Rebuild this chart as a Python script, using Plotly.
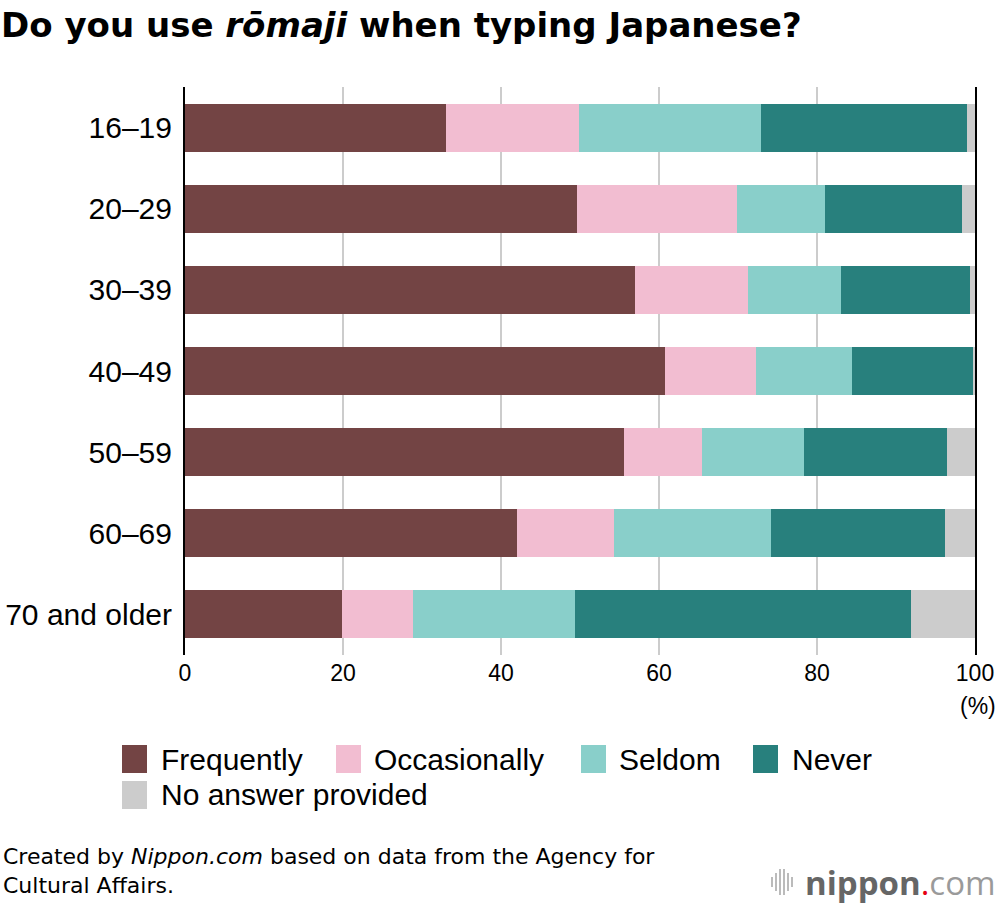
import plotly.graph_objects as go

categories = ["16–19", "20–29", "30–39", "40–49", "50–59", "60–69", "70 and older"]
frequently = [33.0, 49.6, 56.9, 60.8, 55.6, 42.0, 19.9]
occasionally = [16.9, 20.3, 14.4, 11.5, 9.8, 12.3, 9.0]
seldom = [23.0, 11.1, 11.8, 12.1, 13.0, 19.9, 20.5]
never = [26.1, 17.4, 16.3, 15.3, 18.1, 22.0, 42.5]
no_answer = [1.0, 1.6, 0.6, 0.3, 3.5, 3.8, 8.1]
series_names = ["Frequently", "Occasionally", "Seldom", "Never", "No answer provided"]
series_values = [frequently, occasionally, seldom, never, no_answer]
colors = ["#734444", "#f2bdd1", "#89cfca", "#28807d", "#cccccc"]
x_ticks = [0, 20, 40, 60, 80, 100]

W, H = 1000, 906
L, R, T, B = 185, 25, 87, 251
PW, PH = W - L - R, H - T - B
FONT = "Liberation Sans, Arial, Helvetica, sans-serif"
WIDE = "DejaVu Sans, Liberation Sans, sans-serif"


def px(x):
    return (x - L) / PW


def py(y):
    return (H - B - y) / PH


fig = go.Figure()
for name, vals, col in zip(series_names, series_values, colors):
    fig.add_trace(go.Bar(
        y=categories, x=vals, name=name, orientation="h",
        marker=dict(color=col, line=dict(width=0)),
        showlegend=False,
    ))

annotations = []
shapes = []

# manual legend
legend_items = [
    (0, 122, 159, 759),
    (1, 336, 372, 759),
    (2, 581, 617, 759),
    (3, 753, 790, 759),
    (4, 122, 159, 795),
]
for i, sx, tx, cy in legend_items:
    shapes.append(dict(type="rect", xref="paper", yref="paper",
                       x0=px(sx), x1=px(sx + 25), y0=py(cy - 14), y1=py(cy + 14),
                       fillcolor=colors[i], line=dict(width=0)))
    annotations.append(dict(text=series_names[i], xref="paper", yref="paper",
                            x=px(tx), y=py(cy), xanchor="left", yanchor="middle",
                            showarrow=False, font=dict(size=30, color="#000", family=FONT)))

# (%) label
annotations.append(dict(text="(%)", xref="paper", yref="paper", x=px(998), y=py(706),
                        xanchor="right", yanchor="middle", showarrow=False,
                        font=dict(size=23, color="#000", family=FONT)))

# footer
annotations.append(dict(text="Created by <i>Nippon.com</i> based on data from the Agency for<br>Cultural Affairs.",
                        xref="paper", yref="paper", x=px(1), y=py(871), xanchor="left", yanchor="middle",
                        align="left", showarrow=False,
                        font=dict(size=22, color="#000", family=WIDE)))

# logo
bar_x = [772, 776, 780, 784, 788, 792]
bar_h = [10, 18, 26, 26, 18, 10]
for bx, bh in zip(bar_x, bar_h):
    shapes.append(dict(type="line", xref="paper", yref="paper",
                       x0=px(bx), x1=px(bx), y0=py(882 - bh / 2), y1=py(882 + bh / 2),
                       line=dict(color="#bbbbbb", width=2)))
annotations.append(dict(
    text="<b>nippon</b><span style='color:#e60012'>.</span><span style='color:#9a9a9a'>com</span>",
    xref="paper", yref="paper", x=px(998), y=py(882), xanchor="right", yanchor="middle",
    showarrow=False, font=dict(size=33, color="#666666", family="Open Sans, sans-serif")))

fig.update_layout(
    width=W, height=H,
    margin=dict(l=L, r=R, t=T, b=B, pad=0, autoexpand=False),
    barmode="stack",
    bargap=0.41,
    plot_bgcolor="white",
    paper_bgcolor="white",
    font=dict(family=FONT, color="#000"),
    title=dict(text="<b>Do you use <i>rōmaji</i> when typing Japanese?</b>",
               xref="container", yref="container", x=0.001, y=1 - 25 / H,
               xanchor="left", yanchor="middle",
               font=dict(size=34, color="#000", family=WIDE)),
    xaxis=dict(range=[0, 100], tickvals=x_ticks, ticktext=[str(v) for v in x_ticks],
               showgrid=True, gridcolor="#cccccc", gridwidth=2,
               zeroline=False, showline=False, ticks="", automargin=False,
               tickfont=dict(size=23, color="#000", family=FONT),
               ticklabelstandoff=2, fixedrange=True),
    yaxis=dict(categoryorder="array", categoryarray=categories, autorange="reversed",
               showgrid=False, zeroline=False, showline=True, mirror=True,
               linecolor="#000000", linewidth=2, ticks="", automargin=False,
               tickfont=dict(size=30, color="#000", family=FONT),
               ticklabelstandoff=5, fixedrange=True),
    shapes=shapes,
    annotations=annotations,
)

fig.write_html("out.html", config={"displayModeBar": False},
               post_script="document.body.style.margin='0';")
